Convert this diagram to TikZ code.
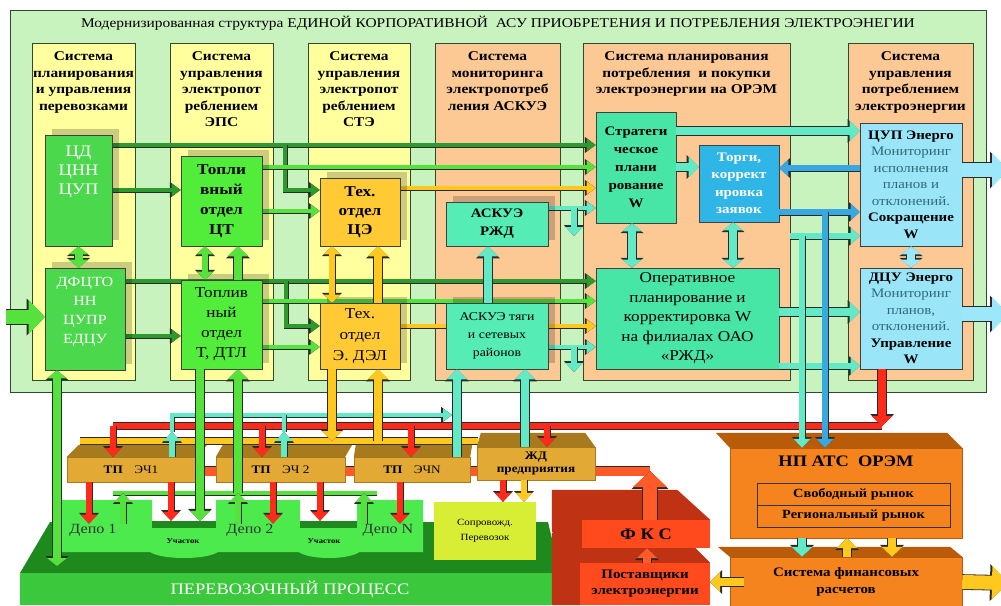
\documentclass[tikz,border=0pt]{standalone}
\usepackage{fontspec}
\setmainfont{Liberation Serif}[FakeStretch=1.15]
\usetikzlibrary{arrows.meta,shadows}
\pgfdeclarelayer{back}
\pgfdeclarelayer{flows}
\pgfsetlayers{back,flows,main}
\definecolor{bggreen}{HTML}{C8F2BE}
\definecolor{edgegreen}{HTML}{2E4A2E}
\definecolor{colyellow}{HTML}{FFFF9E}
\definecolor{colorange}{HTML}{FCC995}
\definecolor{cdgreen}{HTML}{4CD84C}
\definecolor{fuelgreen}{HTML}{52EC3A}
\definecolor{techgold}{HTML}{FFCA33}
\definecolor{askteal}{HTML}{55ECB6}
\definecolor{stratteal}{HTML}{48E6A6}
\definecolor{torgiblue}{HTML}{2FB5E6}
\definecolor{cupcyan}{HTML}{9AE6F8}
\definecolor{cuptext}{HTML}{2E6A7A}
\definecolor{rim}{HTML}{2A2A2A}
\definecolor{pdkgreen}{HTML}{2E9A2E}
\definecolor{pgreen}{HTML}{55E23C}
\definecolor{pyellow}{HTML}{FFC81E}
\definecolor{pteal}{HTML}{62EAC6}
\definecolor{pblue}{HTML}{38A8E0}
\definecolor{pred}{HTML}{FF2A1A}
\definecolor{pcyan}{HTML}{9CE8FA}
\definecolor{porange}{HTML}{FF5A28}
\definecolor{tpgold}{HTML}{E2AA34}
\definecolor{tpdark}{HTML}{A87A1E}
\definecolor{atsorange}{HTML}{F5841E}
\definecolor{atsdark}{HTML}{B95C0A}
\definecolor{fksred}{HTML}{FF4A1E}
\definecolor{fksdark}{HTML}{C03214}
\definecolor{depogreen}{HTML}{4CEA4C}
\definecolor{slabdark}{HTML}{1E8A1E}
\definecolor{slabfront}{HTML}{3CC83C}
\definecolor{soprovyellow}{HTML}{D8EE34}
\newcommand\cupnote[1]{\textcolor{cuptext}{#1}}
\tikzset{%
  asuframe/.style={draw=edgegreen, fill=bggreen, line width=0.8pt, inner sep=0pt},
  col/.style={draw=edgegreen, fill=#1, line width=0.6pt, minimum width=103pt,
    minimum height=337pt, inner sep=0pt},
  hdr/.style={anchor=north, align=center, inner sep=0pt,
    font=\fontsize{13.4}{16.5}\selectfont\bfseries},
  box/.style={draw=black!75, fill=#1, line width=0.6pt, align=center, inner sep=1pt},
  shadowed/.style={drop shadow={shadow xshift=7pt, shadow yshift=6pt, fill=black, opacity=0.2}},
  wtext/.style={text=white, align=center, inner sep=0pt, anchor=north},
  tpbox/.style={fill=tpgold, draw=tpdark, line width=0.4pt, minimum height=25pt,
    inner sep=0pt, align=center, font=\fontsize{11.5}{13}\selectfont},
  atsbox/.style={fill=atsorange, draw=atsdark, line width=0.4pt, inner sep=0pt, align=center},
  fksbox/.style={fill=fksred, inner sep=0pt, align=center,
    font=\fontsize{13}{16}\selectfont\bfseries},
  mkt/.style={draw=black!80, line width=0.6pt, minimum width=193pt, minimum height=22pt,
    inner sep=0pt, font=\fontsize{12.5}{14}\selectfont\bfseries},
  depotext/.style={inner sep=0pt, text=black!80, font=\fontsize{14}{16}\selectfont},
  pipe/.style={draw=#1, line width=3.5pt, preaction={draw=rim, line width=5pt}},
  bus/.style={draw=#1, line width=6pt, preaction={draw=rim, line width=7.6pt}},
  widebus/.style={draw=#1, line width=9pt, preaction={draw=rim, line width=10.6pt}},
  thinto/.style={draw=#1, line width=3.5pt,
    -{Triangle[length=9pt,width=13pt,line width=0pt]},
    preaction={draw=rim, line width=5pt,
      -{Triangle[length=10.8pt,width=16pt,line width=0pt]}}},
  midto/.style={draw=#1, line width=5.5pt,
    -{Triangle[length=9pt,width=17pt,line width=0pt]},
    preaction={draw=rim, line width=7pt,
      -{Triangle[length=10.8pt,width=20pt,line width=0pt]}}},
  midboth/.style={draw=#1, line width=5.5pt,
    {Triangle[length=8pt,width=17pt,line width=0pt]}-{Triangle[length=8pt,width=17pt,line width=0pt]},
    preaction={draw=rim, line width=7pt,
      {Triangle[length=9.8pt,width=20pt,line width=0pt]}-{Triangle[length=9.8pt,width=20pt,line width=0pt]}}},
  fatto/.style={draw=#1, line width=8pt,
    -{Triangle[length=10pt,width=21pt,line width=0pt]},
    preaction={draw=rim, line width=9.6pt,
      -{Triangle[length=12pt,width=24pt,line width=0pt]}}},
  fatboth/.style={draw=#1, line width=8pt,
    {Triangle[length=8pt,width=20pt,line width=0pt]}-{Triangle[length=8pt,width=20pt,line width=0pt]},
    preaction={draw=rim, line width=9.6pt,
      {Triangle[length=9.8pt,width=23pt,line width=0pt]}-{Triangle[length=9.8pt,width=23pt,line width=0pt]}}},
  bigto/.style={draw=#1, line width=14pt,
    -{Triangle[length=16pt,width=34pt,line width=0pt]},
    preaction={draw=rim, line width=15.6pt,
      -{Triangle[length=18pt,width=37pt,line width=0pt]}}}
}

\begin{document}
\begin{tikzpicture}[x=1pt,y=-1pt]
  \useasboundingbox (0,0) rectangle (1001,605);

  % frame, columns, ground
  \begin{pgfonlayer}{back}
    \fill[white] (0,0) rectangle (1001,605);
    \node[asuframe, minimum width=976pt, minimum height=382pt] (asu) at (498,201) {};
    \node[col=colyellow] (c1) at (83.5,211.5) {};
    \node[col=colyellow] (c2) at (221.5,211.5) {};
    \node[col=colyellow, minimum width=102pt] (c3) at (359,211.5) {};
    \node[col=colorange, minimum width=125pt] (c4) at (497.5,211.5) {};
    \node[col=colorange, minimum width=207pt] (c5) at (686.5,211.5) {};
    \node[col=colorange, minimum width=125pt] (c6) at (910.5,211.5) {};
    \fill[slabdark] (20,573) -- (50,522) -- (548,522) -- (560,573) -- cycle;
    \node[fill=slabfront, minimum width=540pt, minimum height=32pt, inner sep=0pt,
      text=white, font=\fontsize{16}{18}\selectfont] (proc) at (290,589) {ПЕРЕВОЗОЧНЫЙ ПРОЦЕСС};
    \fill[depogreen] (62,500) -- (152,500) -- (152,521) -- (216,521) -- (216,500)
      -- (300,500) -- (300,521) -- (357,521) -- (357,500) -- (423,500) -- (423,552)
      -- (62,552) -- cycle;
    \fill[depogreen] (184,549) ellipse (36 and 9);
    \fill[depogreen] (329,549) ellipse (32 and 9);
  \end{pgfonlayer}

  \node[inner sep=0pt, font=\fontsize{13.4}{15}\selectfont] (title) at (498,23)
    {Модернизированная структура ЕДИНОЙ КОРПОРАТИВНОЙ~~АСУ ПРИОБРЕТЕНИЯ И ПОТРЕБЛЕНИЯ ЭЛЕКТРОЭНЕГИИ};
  \node[hdr] (h1) at ([yshift=-9pt]c1.north) {Система\\планирования\\и управления\\перевозками};
  \node[hdr] (h2) at ([yshift=-9pt]c2.north) {Система\\управления\\электропот\\реблением\\ЭПС};
  \node[hdr] (h3) at ([yshift=-9pt]c3.north) {Система\\управления\\электропот\\реблением\\СТЭ};
  \node[hdr] (h4) at ([yshift=-9pt]c4.north) {Система\\мониторинга\\электропотреб\\ления АСКУЭ};
  \node[hdr] (h5) at ([yshift=-9pt]c5.north) {Система планирования\\потребления~~и покупки\\электроэнергии на ОРЭМ};
  \node[hdr] (h6) at ([yshift=-9pt]c6.north) {Система\\управления\\потреблением\\электроэнергии};

  % upper boxes
  \node[box=cdgreen, shadowed, minimum width=67pt, minimum height=111pt] (cd) at (78.5,190.5) {};
  \node[wtext, font=\fontsize{16}{19}\selectfont] (cdtext) at ([yshift=-11pt]cd.north) {ЦД\\ЦНН\\ЦУП};
  \node[box=cdgreen, shadowed, minimum width=80pt, minimum height=102pt] (dfcto) at (85,319) {};
  \node[wtext, font=\fontsize{14}{19}\selectfont] (dfctotext) at ([yshift=-9pt]dfcto.north) {ДФЦТО\\НН\\ЦУПР\\ЕДЦУ};
  \node[box=fuelgreen, shadowed, minimum width=81pt, minimum height=90pt,
    font=\fontsize{15}{20}\selectfont\bfseries] (ct) at (221.5,201) {Топли\\вный\\отдел\\ЦТ};
  \node[box=fuelgreen, shadowed, minimum width=81pt, minimum height=89pt,
    font=\fontsize{15}{20}\selectfont] (dtl) at (221.5,324.5) {Топлив\\ный\\отдел\\Т, ДТЛ};
  \node[box=techgold, shadowed, minimum width=80pt, minimum height=68pt,
    font=\fontsize{15}{19}\selectfont\bfseries] (ce) at (360,212) {Тех.\\отдел\\ЦЭ};
  \node[box=techgold, shadowed, minimum width=80pt, minimum height=66pt,
    font=\fontsize{15}{21}\selectfont] (del) at (360,336) {Тех.\\отдел\\Э. ДЭЛ};
  \node[box=askteal, shadowed, minimum width=102pt, minimum height=44pt,
    font=\fontsize{13}{18}\selectfont\bfseries] (askrzd) at (497,224) {АСКУЭ\\РЖД};
  \node[box=askteal, shadowed, minimum width=102pt, minimum height=66pt,
    font=\fontsize{12}{18}\selectfont] (asktyag) at (497,336) {АСКУЭ тяги\\и сетевых\\районов};
  \node[box=stratteal, minimum width=80pt, minimum height=111pt,
    font=\fontsize{13}{18}\selectfont\bfseries] (strat) at (636,167.5) {Стратеги\\ческое\\плани\\рование\\W};
  \node[box=torgiblue, text=white, minimum width=80pt, minimum height=77pt,
    font=\fontsize{13}{17.5}\selectfont\bfseries] (torgi) at (739,183.5) {Торги,\\коррект\\ировка\\заявок};
  \node[box=stratteal, minimum width=183pt, minimum height=101pt,
    font=\fontsize{15}{19.5}\selectfont] (oper) at (687.5,318.5)
    {Оперативное\\планирование и\\корректировка W\\на филиалах ОАО\\«РЖД»};
  \node[box=cupcyan, minimum width=102pt, minimum height=123pt,
    font=\fontsize{13}{16.5}\selectfont] (cup) at (911,184.5)
    {\textbf{ЦУП Энерго}\\\cupnote{Мониторинг}\\\cupnote{исполнения}\\\cupnote{планов и}\\\cupnote{отклонений.}\\\textbf{Сокращение}\\\textbf{W}};
  \node[box=cupcyan, minimum width=102pt, minimum height=101pt,
    font=\fontsize{13}{16.5}\selectfont] (dcu) at (911,318.5)
    {\textbf{ДЦУ Энерго}\\\cupnote{Мониторинг}\\\cupnote{планов,}\\\cupnote{отклонений.}\\\textbf{Управление}\\\textbf{W}};

  % lower boxes
  \node[depotext] (depo1) at (93,530) {Депо 1};
  \node[depotext] (depo2) at (250,530) {Депо 2};
  \node[depotext] (depoN) at (388,530) {Депо N};
  \node[fill=slabdark, minimum width=64pt, minimum height=7pt, inner sep=0pt] (u1) at (184,524.5) {};
  \node[fill=slabdark, minimum width=57pt, minimum height=7pt, inner sep=0pt] (u2) at (328.5,524.5) {};
  \node[inner sep=0pt, font=\fontsize{7.5}{9}\selectfont\bfseries] (u1text) at (183,541) {Участок};
  \node[inner sep=0pt, font=\fontsize{7.5}{9}\selectfont\bfseries] (u2text) at (324,541) {Участок};
  \node[fill=soprovyellow, minimum width=102pt, minimum height=58pt, inner sep=0pt, align=center,
    font=\fontsize{9.5}{15}\selectfont] (soprov) at (485,531) {Сопровожд.\\Перевозок};

  \node[tpbox, minimum width=128pt] (tp1) at (131,469.5) {\textbf{ТП}\quad ЭЧ1};
  \fill[tpdark] (tp1.north west) -- (tp1.north east) -- ++(12,-12) -- ([shift={(12,-12)}]tp1.north west) -- cycle;
  \node[tpbox, minimum width=129pt] (tp2) at (280.5,469.5) {\textbf{ТП}\quad ЭЧ 2};
  \fill[tpdark] (tp2.north west) -- (tp2.north east) -- ++(7,-12) -- ([shift={(7,-12)}]tp2.north west) -- cycle;
  \node[tpbox, minimum width=116pt] (tpN) at (412,469.5) {\textbf{ТП}\quad ЭЧN};
  \fill[tpdark] (tpN.north west) -- (tpN.north east) -- ++(2,-12) -- ([shift={(2,-12)}]tpN.north west) -- cycle;
  \node[tpbox, minimum width=118pt, minimum height=33pt, font=\fontsize{11.5}{13}\selectfont\bfseries] (zhd) at (536,463.5) {ЖД\\предприятия};
  \fill[tpdark] (zhd.north west) -- (zhd.north east) -- ++(-10,-14) -- ([shift={(4,-14)}]zhd.north west) -- cycle;

  \node[fksbox, minimum width=130pt, minimum height=42pt] (post) at (645,584) {Поставщики\\электроэнергии};
  \fill[fksdark] ([shift={(-28,-30)}]post.north west) -- ([shift={(-30,-30)}]post.north east)
    -- (post.north east) -- (post.north west) -- (post.south west) -- ([xshift=-28pt]post.south west) -- cycle;
  \node[fksbox, minimum width=128pt, minimum height=28pt, font=\fontsize{16}{18}\selectfont\bfseries] (fks) at (646,534) {Ф К С};
  \fill[fksdark] ([shift={(-30,-30)}]fks.north west) -- ([shift={(-33,-30)}]fks.north east)
    -- (fks.north east) -- (fks.north west) -- (fks.south west) -- ([shift={(-30,-2)}]fks.west) -- cycle;

  \node[atsbox, minimum width=232pt, minimum height=90pt] (npats) at (846,493) {};
  \fill[atsdark] (npats.north west) -- (npats.north east) -- ++(-15,-15) -- ([shift={(-14,-15)}]npats.north west) -- cycle;
  \node[inner sep=0pt, font=\fontsize{16}{18}\selectfont\bfseries] (nptitle) at (846,461) {НП АТС~~ОРЭМ};
  \node[mkt] (mfree) at (853.5,494) {Свободный рынок};
  \node[mkt] (mreg) at (853.5,516) {Региональный рынок};
  \node[atsbox, minimum width=232pt, minimum height=50pt, font=\fontsize{13}{17}\selectfont\bfseries] (sfr) at (846,582)
    {Система финансовых\\расчетов};
  \fill[atsdark] (sfr.north west) -- (sfr.north east) -- ++(-12,-10) -- ([shift={(-12,-10)}]sfr.north west) -- cycle;

  % free ends
  \coordinate (brU) at (285,145);
  \coordinate (brL) at (286,281);
  \coordinate (tapU) at (574,208);
  \coordinate (tapL) at (574,347);
  \coordinate (blueT) at (825,212);
  \coordinate (tealT) at (802,236);
  \coordinate (inL) at (6,317);
  \coordinate (outA) at (1008,170);
  \coordinate (outB) at (1008,314);
  \coordinate (outC) at (1008,583);
  \coordinate (slabA) at (57,566);
  \coordinate (rbL) at (113,426);
  \coordinate (rbR) at (882,426);
  \coordinate (tb1) at (172,432);
  \coordinate (tb2) at (284,432);
  \coordinate (tbR) at (452,415);
  \coordinate (ysL) at (80,441);
  \coordinate (ysR) at (478,441);
  \coordinate (gbL) at (113,493);
  \coordinate (gbR) at (377,493);
  \coordinate (pipeR) at (650,471);

  % flows behind the boxes
  \begin{pgfonlayer}{flows}
    \draw[thinto=pdkgreen] (cd.east |- brU) -- (strat.west |- brU);
    \draw[thinto=pdkgreen] (brU) |- (ce.west |- 0,190);
    \draw[thinto=pdkgreen] (cd.east |- 0,190) -- (ct.west |- 0,190);
    \draw[thinto=pgreen] (ct.east |- 0,167) -- (strat.west |- 0,167);
    \draw[thinto=pgreen] (ct.east |- 0,211) -- (ce.west |- 0,211);
    \draw[thinto=pyellow] (ce.east |- 0,188) -- (strat.west |- 0,188);
    \draw[thinto=pteal] (askrzd.east |- tapU) -- (strat.west |- tapU);
    \draw[midto=pteal] (tapU) -- (tapU |- 0,236);
    \draw[thinto=pdkgreen] (dfcto.east |- brL) -- (oper.west |- brL);
    \draw[thinto=pdkgreen] (brL) |- (del.west |- 0,326);
    \draw[thinto=pdkgreen] (dfcto.east |- 0,336) -- (dtl.west |- 0,336);
    \draw[thinto=pgreen] (dtl.east |- 0,301) -- (oper.west |- 0,301);
    \draw[thinto=pgreen] (dtl.east |- 0,347) -- (del.west |- 0,347);
    \draw[thinto=pyellow] (del.east |- 0,326) -- (oper.west |- 0,326);
    \draw[thinto=pteal] (asktyag.east |- tapL) -- (oper.west |- tapL);
    \draw[midto=pteal] (tapL) -- (tapL |- 0,372);
    \draw[bus=pyellow] (ysL) -- (ysR);
    \draw[widebus=porange] (tp1.east |- pipeR) -- (pipeR);
  \end{pgfonlayer}

  % planning and trading
  \draw[fatto=pteal] (strat.east |- 0,131) -- (cup.west |- 0,131);
  \draw[fatto=pteal] (strat.east |- 0,167) -- (torgi.west |- 0,167);
  \draw[midto=pblue] (cup.west |- 0,168) -- (torgi.east |- 0,168);
  \draw[midto=pblue] (torgi.east |- blueT) -- (cup.west |- blueT);
  \draw[midto=pteal] (c5.east |- tealT) -- (cup.west |- tealT);
  \draw[fatto=pteal] (oper.east |- 0,312) -- (dcu.west |- 0,312);
  \draw[midto=pteal] (oper.east |- 0,366) -- (dcu.west |- 0,366);

  % vertical links
  \draw[fatboth=pgreen] (cd.south) -- (cd.south |- dfcto.north);
  \draw[midboth=pgreen] (ct.south -| 205,0) -- (dtl.north -| 205,0);
  \draw[fatto=pgreen] (dtl.north -| 238,0) -- (ct.south -| 238,0);
  \draw[midboth=pyellow] (ce.south -| 332,0) -- (del.north -| 332,0);
  \draw[fatto=pyellow] (del.north -| 378,0) -- (ce.south -| 378,0);
  \draw[fatto=pteal] (asktyag.north -| 488,0) -- (askrzd.south -| 488,0);
  \draw[fatboth=pteal] (strat.south -| 632,0) -- (oper.north -| 632,0);
  \draw[fatboth=pteal] (torgi.south -| 733,0) -- (oper.north -| 733,0);
  \draw[fatboth=pcyan] (cup.south) -- (dcu.north);
  \draw[bigto=pcyan] (cup.east |- outA) -- (outA);
  \draw[bigto=pcyan] (dcu.east |- outB) -- (outB);
  \draw[bigto=pgreen] (inL) -- (dfcto.west |- inL);
  \draw[fatboth=pgreen] (dfcto.south -| slabA) -- (slabA);

  % red control bus
  \draw[bus=pred] (rbR) -- (rbL);
  \draw[fatto=pred] (dcu.south -| rbR) -- (rbR);
  \draw[midto=pred] (rbL) -- (tp1.north -| rbL);
  \draw[midto=pred] (rbL -| 262,0) -- (tp2.north -| 262,0);
  \draw[midto=pred] (rbL -| 411,0) -- (tpN.north -| 411,0);
  \draw[midto=pred] (rbL -| 547,0) -- (zhd.north -| 547,0);

  % metering back to ASKUE
  \draw[midto=pteal] (tp1.north -| tb1) -- (tb1);
  \draw[thinto=pteal] (tb1) |- (tbR);
  \draw[midto=pteal] (tp2.north -| tb2) -- (tb2);
  \draw[pipe=pteal] (tb2) -- (tb2 |- tbR);
  \draw[fatto=pteal] (tpN.north -| 457,0) -- (asktyag.south -| 457,0);
  \draw[fatto=pteal] (zhd.north -| 525,0) -- (asktyag.south -| 525,0);
  \draw[fatto=pyellow] (del.south -| 332,0) -- (ysL -| 332,0);
  \draw[fatto=pyellow] (ysL -| 378,0) -- (del.south -| 378,0);

  % depots
  \draw[pipe=pgreen] (gbL) -- (gbR);
  \draw[fatto=pgreen] (gbL -| 238,0) -- (dtl.south -| 238,0);
  \draw[fatto=pgreen] (dtl.south -| 200,0) -- (u1.north -| 200,0);
  \draw[midto=pgreen] (depo1.north -| 123,0) -- (gbL -| 123,0);
  \draw[midto=pgreen] (depo2.north -| 238,0) -- (gbL -| 238,0);
  \draw[midto=pgreen] (depoN.north -| 364,0) -- (gbL -| 364,0);
  \draw[midto=pred] (tp1.south -| 89,0) -- (depo1.north -| 89,0);
  \draw[midto=pred] (tp1.south -| 171,0) -- (u1.north -| 171,0);
  \draw[midto=pred] (tp2.south -| 273,0) -- (depo2.north -| 273,0);
  \draw[midto=pred] (tp2.south -| 320,0) -- (u2.north -| 320,0);
  \draw[midto=pred] (tpN.south -| 400,0) -- (depoN.north -| 400,0);
  \draw[midto=pred] (zhd.south -| 503,0) -- (soprov.north -| 503,0);
  \draw[midto=pyellow] (zhd.south -| 524,0) -- (soprov.north -| 524,0);

  % market
  \draw[bigto=porange] (fks.north -| pipeR) -- (pipeR);
  \draw[fatto=porange] (post.north -| 647,0) -- (fks.south -| 647,0);
  \draw[midto=pteal] (tealT) -- (npats.north -| tealT);
  \draw[midto=pblue] (blueT) -- (npats.north -| blueT);
  \draw[fatto=pteal] (npats.south -| 802,0) -- (sfr.north -| 802,0);
  \draw[fatto=pyellow] (sfr.north -| 847,0) -- (npats.south -| 847,0);
  \draw[fatto=pyellow] (npats.south -| 892,0) -- (sfr.north -| 892,0);
  \draw[fatto=pyellow] ([xshift=14pt]sfr.west) -- (post.east |- sfr.west);
  \draw[bigto=pyellow] (sfr.east) -- (outC);
\end{tikzpicture}
\end{document}
